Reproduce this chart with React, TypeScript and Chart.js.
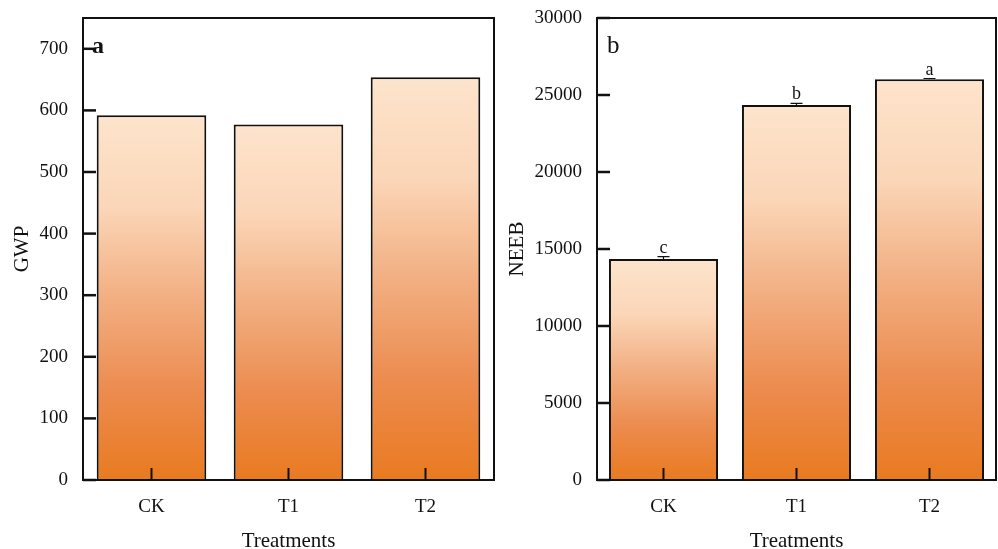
import React, { useEffect, useRef } from "react";
import { Chart, registerables } from "chart.js";

Chart.register(...registerables);

const categories = ["CK", "T1", "T2"];
const gwpValues = [592, 577, 654];
const neebValues = [14350, 24350, 26020];
const neebErrors = [150, 100, 50];
const neebLetters = ["c", "b", "a"];
const gwpTicks = [0, 100, 200, 300, 400, 500, 600, 700];
const neebTicks = [0, 5000, 10000, 15000, 20000, 25000, 30000];

const SERIF = "'Liberation Serif', 'DejaVu Serif', serif";

function barGradient(ctx: any) {
  const chart = ctx.chart;
  if (!chart.chartArea) return "#f0a070";
  const y = chart.scales.y;
  const top = y.getPixelForValue(ctx.raw);
  const bottom = y.getPixelForValue(0);
  const g = chart.ctx.createLinearGradient(0, top, 0, bottom);
  g.addColorStop(0, "rgb(253,228,204)");
  g.addColorStop(0.25, "rgb(251,214,184)");
  g.addColorStop(0.5, "rgb(242,175,130)");
  g.addColorStop(0.75, "rgb(236,140,80)");
  g.addColorStop(1, "rgb(233,122,32)");
  return g;
}

type PanelCfg = {
  values: number[];
  max: number;
  ticks: number[];
  yTitle: string;
  panelLabel: string;
  panelBold: boolean;
  panelFontSize: number;
  labelPos: [number, number];
  yWidth: number;
  padRight: number;
  barPct: number;
  yTitleX: number;
  errors?: number[];
  letters?: string[];
};

function makeDecor(cfg: PanelCfg) {
  return {
    id: "decor",
    afterDatasetsDraw(chart: any) {
      const { ctx, chartArea } = chart;
      const xs = chart.scales.x;
      const ys = chart.scales.y;
      ctx.save();
      ctx.strokeStyle = "#111";
      ctx.fillStyle = "#111";
      if (cfg.errors) {
        cfg.values.forEach((v, i) => {
          const x = xs.getPixelForValue(i);
          const e = cfg.errors![i];
          const yt = ys.getPixelForValue(v + e);
          const yb = ys.getPixelForValue(v);
          ctx.lineWidth = 1.2;
          ctx.beginPath();
          ctx.moveTo(x, yb);
          ctx.lineTo(x, yt);
          ctx.moveTo(x - 6, yt);
          ctx.lineTo(x + 6, yt);
          ctx.stroke();
          if (cfg.letters) {
            ctx.font = `18px ${SERIF}`;
            ctx.textAlign = "center";
            ctx.textBaseline = "alphabetic";
            ctx.fillText(cfg.letters[i], x, yt - 4);
          }
        });
      }
      ctx.lineWidth = 2.5;
      ys.ticks.forEach((t: any) => {
        const y = ys.getPixelForValue(t.value);
        ctx.beginPath();
        ctx.moveTo(chartArea.left, y);
        ctx.lineTo(chartArea.left + 13, y);
        ctx.stroke();
      });
      ctx.lineWidth = 2;
      categories.forEach((_, i) => {
        const x = xs.getPixelForValue(i);
        ctx.beginPath();
        ctx.moveTo(x, chartArea.bottom);
        ctx.lineTo(x, chartArea.bottom - 12);
        ctx.stroke();
      });
      ctx.lineWidth = 2;
      ctx.strokeRect(chartArea.left, chartArea.top, chartArea.right - chartArea.left, chartArea.bottom - chartArea.top);
      ctx.font = `${cfg.panelBold ? "bold " : ""}${cfg.panelFontSize}px ${SERIF}`;
      ctx.textAlign = "left";
      ctx.textBaseline = "alphabetic";
      ctx.fillText(cfg.panelLabel, chartArea.left + cfg.labelPos[0], chartArea.top + cfg.labelPos[1]);
      ctx.font = `21px ${SERIF}`;
      ctx.textAlign = "center";
      ctx.textBaseline = "alphabetic";
      ctx.fillText("Treatments", (chartArea.left + chartArea.right) / 2, 547);
      ctx.save();
      ctx.translate(cfg.yTitleX, (chartArea.top + chartArea.bottom) / 2);
      ctx.rotate(-Math.PI / 2);
      ctx.textBaseline = "middle";
      ctx.fillText(cfg.yTitle, 0, 0);
      ctx.restore();
      ctx.restore();
    },
  };
}

function Panel({ cfg, width, left }: { cfg: PanelCfg; width: number; left: number }) {
  const ref = useRef<HTMLCanvasElement>(null);
  useEffect(() => {
    if (!ref.current) return;
    const chart = new Chart(ref.current, {
      type: "bar",
      data: {
        labels: categories,
        datasets: [
          {
            data: cfg.values,
            backgroundColor: barGradient as any,
            borderColor: "#111",
            borderWidth: 2,
            barPercentage: cfg.barPct,
            categoryPercentage: 1,
          },
        ],
      },
      plugins: [makeDecor(cfg)],
      options: {
        responsive: false,
        animation: false,
        devicePixelRatio: 1,
        layout: { padding: { left: 0, right: cfg.padRight, top: 18, bottom: 0 } },
        plugins: { legend: { display: false }, tooltip: { enabled: false } },
        scales: {
          x: {
            grid: { display: false, drawTicks: false },
            border: { display: false },
            ticks: { color: "#111", font: { family: SERIF, size: 19 }, padding: 16 },
            afterFit: (s: any) => {
              s.height = 69;
              s.paddingLeft = 0;
              s.paddingRight = 0;
            },
          },
          y: {
            min: 0,
            max: cfg.max,
            grid: { display: false, drawTicks: false },
            border: { display: false },
            ticks: {
              color: "#111",
              font: { family: SERIF, size: 19 },
              padding: 15,
              callback: (v: any) => String(v),
            },
            afterBuildTicks: (s: any) => {
              s.ticks = cfg.ticks.map((v) => ({ value: v }));
            },
            afterFit: (s: any) => {
              s.width = cfg.yWidth;
              s.paddingTop = 0;
              s.paddingBottom = 0;
            },
          },
        },
      },
    });
    return () => chart.destroy();
  }, []);
  return (
    <canvas
      ref={ref}
      width={width}
      height={549}
      style={{ position: "absolute", left, top: 0, width, height: 549 }}
    />
  );
}

const panelA: PanelCfg = {
  values: gwpValues,
  max: 750,
  ticks: gwpTicks,
  yTitle: "GWP",
  panelLabel: "a",
  panelBold: true,
  panelFontSize: 24,
  labelPos: [9, 35],
  yWidth: 83,
  padRight: 6,
  barPct: 0.8,
  yTitleX: 22,
};

const panelB: PanelCfg = {
  values: neebValues,
  max: 30000,
  ticks: neebTicks,
  yTitle: "NEEB",
  panelLabel: "b",
  panelBold: false,
  panelFontSize: 25,
  labelPos: [10, 35],
  yWidth: 97,
  padRight: 2,
  barPct: 0.82,
  yTitleX: 17,
  errors: neebErrors,
  letters: neebLetters,
};

export default function App() {
  return (
    <div style={{ position: "fixed", left: 0, top: 0, width: 998, height: 549, background: "#fff" }}>
      <Panel cfg={panelA} width={500} left={0} />
      <Panel cfg={panelB} width={498} left={500} />
    </div>
  );
}
